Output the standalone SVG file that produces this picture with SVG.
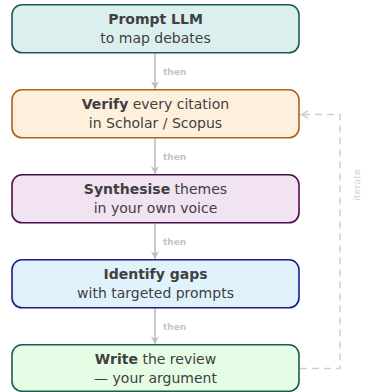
<svg xmlns="http://www.w3.org/2000/svg" width="365" height="392" viewBox="0 0 365 392">
<style>
.box{stroke-width:1.6}
.t{font-family:"DejaVu Sans",sans-serif;font-size:14px;fill:#404040;text-anchor:middle}
.b{font-weight:bold}
.lbl{font-family:"DejaVu Sans",sans-serif;font-size:9px;font-weight:bold;fill:#c4c4c4}
.it{font-family:"DejaVu Sans",sans-serif;font-size:9.5px;fill:#d4d4d4;text-anchor:middle}
.flow{stroke:#bdbdbd;stroke-width:1.6;fill:none}
.loop{stroke:#cfcfcf;stroke-width:1.5;fill:none;stroke-dasharray:7 5}
</style>
<defs>
<marker id="ah" viewBox="0 0 10 10" refX="9" refY="5" markerWidth="8" markerHeight="8" orient="auto" markerUnits="userSpaceOnUse">
<path d="M0,0 L10,5 L0,10 L3,5 Z" fill="#bdbdbd"/>
</marker>
<marker id="ah2" viewBox="0 0 10 10" refX="9" refY="5" markerWidth="9" markerHeight="9" orient="auto" markerUnits="userSpaceOnUse">
<path d="M1,1 L9,5 L1,9" fill="none" stroke="#cfcfcf" stroke-width="1.6"/>
</marker>
</defs>
<g id="connectors">
<line class="flow" x1="155" y1="53.5" x2="155" y2="88.5" marker-end="url(#ah)"/>
<text class="lbl" x="163" y="75">then</text>
<line class="flow" x1="155" y1="138.5" x2="155" y2="173.5" marker-end="url(#ah)"/>
<text class="lbl" x="163" y="160">then</text>
<line class="flow" x1="155" y1="223.5" x2="155" y2="258.5" marker-end="url(#ah)"/>
<text class="lbl" x="163" y="245">then</text>
<line class="flow" x1="155" y1="308.5" x2="155" y2="343.5" marker-end="url(#ah)"/>
<text class="lbl" x="163" y="330">then</text>
<path class="loop" d="M300,368.5 H340 V114.5 H301" marker-end="url(#ah2)"/>
<text class="it" transform="translate(360,185) rotate(-90)">iterate</text>
</g>
<g id="n1">
<rect class="box" x="12" y="4.8" width="287" height="48" rx="10" fill="#dcefef" stroke="#1d5b5b"/>
<text class="t b" x="155.5" y="24">Prompt LLM</text>
<text class="t" x="155.5" y="42.8">to map debates</text>
</g>
<g id="n2">
<rect class="box" x="12" y="89.8" width="287" height="48" rx="10" fill="#fff0de" stroke="#b0601a"/>
<text class="t" x="155.5" y="109"><tspan class="b">Verify</tspan> every citation</text>
<text class="t" x="155.5" y="127.8">in Scholar / Scopus</text>
</g>
<g id="n3">
<rect class="box" x="12" y="174.8" width="287" height="48" rx="10" fill="#f1e3f1" stroke="#4d0f4d"/>
<text class="t" x="155.5" y="194"><tspan class="b">Synthesise</tspan> themes</text>
<text class="t" x="155.5" y="212.8">in your own voice</text>
</g>
<g id="n4">
<rect class="box" x="12" y="259.8" width="287" height="48" rx="10" fill="#e0f3fc" stroke="#1c1c8f"/>
<text class="t b" x="155.5" y="279">Identify gaps</text>
<text class="t" x="155.5" y="297.8">with targeted prompts</text>
</g>
<g id="n5">
<rect class="box" x="12" y="344.8" width="287" height="46.5" rx="10" fill="#e4fde4" stroke="#1e5a50"/>
<text class="t" x="155.5" y="364"><tspan class="b">Write</tspan> the review</text>
<text class="t" x="155.5" y="382.8">— your argument</text>
</g>
</svg>
